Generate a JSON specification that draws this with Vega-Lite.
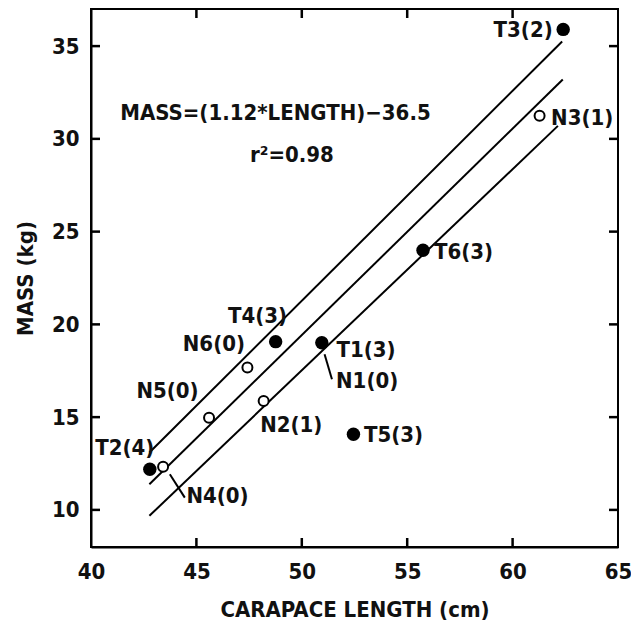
{
  "$schema": "https://vega.github.io/schema/vega-lite/v6.json",
  "width": 527,
  "height": 538,
  "autosize": {"type": "none"},
  "padding": {"left": 91, "top": 9, "right": 13, "bottom": 78},
  "background": "white",
  "config": {
    "font": "DejaVu Sans Condensed",
    "view": {"stroke": "black", "strokeWidth": 2},
    "axis": {
      "grid": false,
      "domain": true,
      "domainColor": "black",
      "domainWidth": 2,
      "ticks": false,
      "labelFont": "DejaVu Sans Condensed",
      "labelFontSize": 22,
      "labelFontWeight": "bold",
      "labelColor": "#111",
      "labelFlush": false,
      "labelOverlap": false,
      "titleFont": "DejaVu Sans Condensed",
      "titleFontSize": 22,
      "titleFontWeight": "bold",
      "titleColor": "#111"
    },
    "axisX": {"labelPadding": 14, "titlePadding": 17},
    "axisY": {"labelPadding": 12, "titlePadding": 14}
  },
  "datasets": {
    "points": [
      {"name": "T1", "kind": "T", "length": 50.95, "mass": 19.01},
      {"name": "T2", "kind": "T", "length": 42.79, "mass": 12.19},
      {"name": "T3", "kind": "T", "length": 62.4, "mass": 35.9},
      {"name": "T4", "kind": "T", "length": 48.76, "mass": 19.07},
      {"name": "T5", "kind": "T", "length": 52.45, "mass": 14.08},
      {"name": "T6", "kind": "T", "length": 55.75, "mass": 24.0},
      {"name": "N1", "kind": "N", "length": 50.95, "mass": 19.01},
      {"name": "N2", "kind": "N", "length": 48.19, "mass": 15.87},
      {"name": "N3", "kind": "N", "length": 61.28, "mass": 31.25},
      {"name": "N4", "kind": "N", "length": 43.42, "mass": 12.33},
      {"name": "N5", "kind": "N", "length": 45.6, "mass": 14.97},
      {"name": "N6", "kind": "N", "length": 47.42, "mass": 17.67}
    ],
    "fits": [
      {"band": "upper", "length": 42.77, "mass": 13.09},
      {"band": "upper", "length": 62.35, "mass": 35.25},
      {"band": "fit", "length": 42.77, "mass": 11.38},
      {"band": "fit", "length": 62.38, "mass": 33.2},
      {"band": "lower", "length": 42.77, "mass": 9.68},
      {"band": "lower", "length": 62.15, "mass": 30.7}
    ],
    "leaders": [
      {"label": "N1(0)", "length": 51.08, "mass": 18.39, "length2": 51.43, "mass2": 17.04},
      {"label": "N4(0)", "length": 43.74, "mass": 11.92, "length2": 44.45, "mass2": 10.66}
    ],
    "xticks": [
      {"length": 45}, {"length": 50}, {"length": 55}, {"length": 60}
    ],
    "yticks": [
      {"mass": 10}, {"mass": 15}, {"mass": 20}, {"mass": 25}, {"mass": 30}, {"mass": 35}
    ],
    "annotations": [
      {"text": "T1(3)", "length": 53.05, "mass": 18.62},
      {"text": "T2(4)", "length": 41.6, "mass": 13.36},
      {"text": "T3(2)", "length": 60.5, "mass": 35.85},
      {"text": "T4(3)", "length": 47.9, "mass": 20.45},
      {"text": "T5(3)", "length": 54.35, "mass": 14.05},
      {"text": "T6(3)", "length": 57.67, "mass": 23.9},
      {"text": "N1(0)", "length": 53.1, "mass": 16.93},
      {"text": "N2(1)", "length": 49.5, "mass": 14.6},
      {"text": "N3(1)", "length": 63.3, "mass": 31.15},
      {"text": "N4(0)", "length": 46.0, "mass": 10.75},
      {"text": "N5(0)", "length": 43.63, "mass": 16.4},
      {"text": "N6(0)", "length": 45.83, "mass": 18.93},
      {"text": "MASS=(1.12*LENGTH)−36.5", "length": 48.75, "mass": 31.4},
      {"text": "r²=0.98", "length": 49.53, "mass": 29.15}
    ]
  },
  "layer": [
    {
      "data": {"name": "fits"},
      "mark": {"type": "line", "color": "black", "strokeWidth": 2},
      "encoding": {
        "x": {"field": "length", "type": "quantitative", "title": "CARAPACE LENGTH (cm)", "scale": {"domain": [40, 65], "nice": false, "zero": false}, "axis": {"values": [40, 45, 50, 55, 60, 65]}},
        "y": {"field": "mass", "type": "quantitative", "title": "MASS (kg)", "scale": {"domain": [8, 37], "nice": false, "zero": false}, "axis": {"values": [10, 15, 20, 25, 30, 35]}},
        "detail": {"field": "band", "type": "nominal"}
      }
    },
    {
      "data": {"name": "xticks"},
      "mark": {"type": "rule", "strokeWidth": 2.5, "color": "black"},
      "encoding": {
        "x": {"field": "length", "type": "quantitative", "title": "CARAPACE LENGTH (cm)", "scale": {"domain": [40, 65], "nice": false, "zero": false}, "axis": {"values": [40, 45, 50, 55, 60, 65]}},
        "y": {"datum": 8, "type": "quantitative", "title": "MASS (kg)", "scale": {"domain": [8, 37], "nice": false, "zero": false}, "axis": {"values": [10, 15, 20, 25, 30, 35]}},
        "y2": {"datum": 8.485}
      }
    },
    {
      "data": {"name": "xticks"},
      "mark": {"type": "rule", "strokeWidth": 2.5, "color": "black"},
      "encoding": {
        "x": {"field": "length", "type": "quantitative", "title": "CARAPACE LENGTH (cm)", "scale": {"domain": [40, 65], "nice": false, "zero": false}, "axis": {"values": [40, 45, 50, 55, 60, 65]}},
        "y": {"datum": 37, "type": "quantitative", "title": "MASS (kg)", "scale": {"domain": [8, 37], "nice": false, "zero": false}, "axis": {"values": [10, 15, 20, 25, 30, 35]}},
        "y2": {"datum": 36.515}
      }
    },
    {
      "data": {"name": "yticks"},
      "mark": {"type": "rule", "strokeWidth": 2.5, "color": "black"},
      "encoding": {
        "y": {"field": "mass", "type": "quantitative", "title": "MASS (kg)", "scale": {"domain": [8, 37], "nice": false, "zero": false}, "axis": {"values": [10, 15, 20, 25, 30, 35]}},
        "x": {"datum": 40, "type": "quantitative", "title": "CARAPACE LENGTH (cm)", "scale": {"domain": [40, 65], "nice": false, "zero": false}, "axis": {"values": [40, 45, 50, 55, 60, 65]}},
        "x2": {"datum": 40.427}
      }
    },
    {
      "data": {"name": "yticks"},
      "mark": {"type": "rule", "strokeWidth": 2.5, "color": "black"},
      "encoding": {
        "y": {"field": "mass", "type": "quantitative", "title": "MASS (kg)", "scale": {"domain": [8, 37], "nice": false, "zero": false}, "axis": {"values": [10, 15, 20, 25, 30, 35]}},
        "x": {"datum": 65, "type": "quantitative", "title": "CARAPACE LENGTH (cm)", "scale": {"domain": [40, 65], "nice": false, "zero": false}, "axis": {"values": [40, 45, 50, 55, 60, 65]}},
        "x2": {"datum": 64.573}
      }
    },
    {
      "data": {"name": "leaders"},
      "mark": {"type": "rule", "color": "black", "strokeWidth": 2},
      "encoding": {
        "x": {"field": "length", "type": "quantitative", "title": "CARAPACE LENGTH (cm)", "scale": {"domain": [40, 65], "nice": false, "zero": false}, "axis": {"values": [40, 45, 50, 55, 60, 65]}},
        "y": {"field": "mass", "type": "quantitative", "title": "MASS (kg)", "scale": {"domain": [8, 37], "nice": false, "zero": false}, "axis": {"values": [10, 15, 20, 25, 30, 35]}},
        "x2": {"field": "length2"},
        "y2": {"field": "mass2"}
      }
    },
    {
      "data": {"name": "points"},
      "transform": [{"filter": "datum.kind == 'N'"}],
      "mark": {"type": "point", "shape": "circle", "filled": false, "fill": "white", "stroke": "black", "strokeWidth": 2, "size": 100, "opacity": 1},
      "encoding": {
        "x": {"field": "length", "type": "quantitative", "title": "CARAPACE LENGTH (cm)", "scale": {"domain": [40, 65], "nice": false, "zero": false}, "axis": {"values": [40, 45, 50, 55, 60, 65]}},
        "y": {"field": "mass", "type": "quantitative", "title": "MASS (kg)", "scale": {"domain": [8, 37], "nice": false, "zero": false}, "axis": {"values": [10, 15, 20, 25, 30, 35]}}
      }
    },
    {
      "data": {"name": "points"},
      "transform": [{"filter": "datum.kind == 'T'"}],
      "mark": {"type": "point", "shape": "circle", "filled": true, "color": "black", "size": 180, "opacity": 1},
      "encoding": {
        "x": {"field": "length", "type": "quantitative", "title": "CARAPACE LENGTH (cm)", "scale": {"domain": [40, 65], "nice": false, "zero": false}, "axis": {"values": [40, 45, 50, 55, 60, 65]}},
        "y": {"field": "mass", "type": "quantitative", "title": "MASS (kg)", "scale": {"domain": [8, 37], "nice": false, "zero": false}, "axis": {"values": [10, 15, 20, 25, 30, 35]}}
      }
    },
    {
      "data": {"name": "annotations"},
      "mark": {"type": "text", "align": "center", "baseline": "middle", "fontSize": 22, "fontWeight": "bold", "font": "DejaVu Sans Condensed", "color": "#111"},
      "encoding": {
        "x": {"field": "length", "type": "quantitative", "title": "CARAPACE LENGTH (cm)", "scale": {"domain": [40, 65], "nice": false, "zero": false}, "axis": {"values": [40, 45, 50, 55, 60, 65]}},
        "y": {"field": "mass", "type": "quantitative", "title": "MASS (kg)", "scale": {"domain": [8, 37], "nice": false, "zero": false}, "axis": {"values": [10, 15, 20, 25, 30, 35]}},
        "text": {"field": "text", "type": "nominal"}
      }
    }
  ]
}
